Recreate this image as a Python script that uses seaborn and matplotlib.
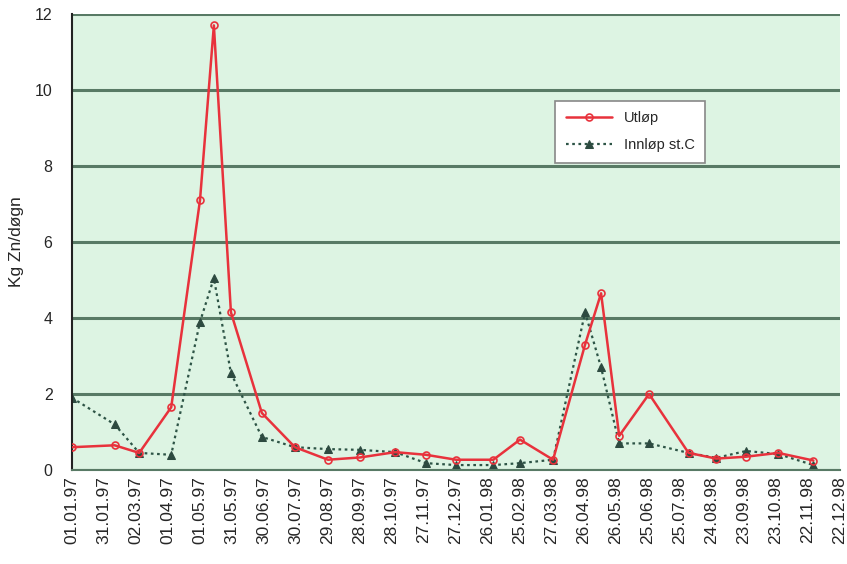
import matplotlib
matplotlib.use("Agg")
import matplotlib.pyplot as plt
import seaborn as sns
import pandas as pd

dates = ["01.01.97", "10.02.97", "05.03.97", "04.04.97", "01.05.97", "14.05.97",
         "30.05.97", "28.06.97", "29.07.97", "29.08.97", "28.09.97", "31.10.97",
         "29.11.97", "27.12.97", "31.01.98", "25.02.98", "28.03.98", "27.04.98",
         "12.05.98", "29.05.98", "26.06.98", "02.08.98", "28.08.98", "25.09.98",
         "25.10.98", "27.11.98"]
utlop = [0.6, 0.65, 0.45, 1.65, 7.1, 11.7, 4.15, 1.5, 0.6, 0.27, 0.33, 0.47,
         0.4, 0.27, 0.27, 0.8, 0.27, 3.3, 4.65, 0.9, 2.0, 0.45, 0.3, 0.35, 0.45, 0.25]
innlop = [1.9, 1.2, 0.45, 0.4, 3.9, 5.05, 2.55, 0.87, 0.6, 0.55, 0.53, 0.47,
          0.18, 0.13, 0.13, 0.18, 0.27, 4.15, 2.7, 0.7, 0.7, 0.45, 0.32, 0.5, 0.42, 0.13]
tick_labels = ["01.01.97", "31.01.97", "02.03.97", "01.04.97", "01.05.97", "31.05.97",
               "30.06.97", "30.07.97", "29.08.97", "28.09.97", "28.10.97", "27.11.97",
               "27.12.97", "26.01.98", "25.02.98", "27.03.98", "26.04.98", "26.05.98",
               "25.06.98", "25.07.98", "24.08.98", "23.09.98", "23.10.98", "22.11.98",
               "22.12.98"]
y_ticks = [0, 2, 4, 6, 8, 10, 12]

sns.set_style("white")
plt.rcParams['font.family'] = ['Liberation Sans', 'DejaVu Sans']

d = pd.to_datetime(dates, format="%d.%m.%y")
df = pd.DataFrame({"Dato": d, "Utløp": utlop, "Innløp st.C": innlop})

fig = plt.figure(figsize=(8.47, 5.64), dpi=100)
# axes: x 72..840 px, y 14..470 px
ax = fig.add_axes([72 / 847, 1 - 470 / 564, (840 - 72) / 847, (470 - 14) / 564])
ax.set_facecolor("#ddf4e3")

for y in y_ticks:
    ax.axhline(y, color="#587a65", lw=2.2, zorder=0)

sns.lineplot(data=df, x="Dato", y="Utløp", ax=ax, color="#e8323c", lw=1.8,
             marker="o", markersize=5, markerfacecolor="none",
             markeredgecolor="#e8323c", markeredgewidth=1.2, label="Utløp", zorder=3)
sns.lineplot(data=df, x="Dato", y="Innløp st.C", ax=ax, color="#2d5446", lw=1.6,
             linestyle=(0, (1.2, 1.6)), marker="^", markersize=6,
             markerfacecolor="#2d4a40", markeredgecolor="#2d4a40", label="Innløp st.C",
             zorder=2)

tick_dates = pd.to_datetime(tick_labels, format="%d.%m.%y")
ax.set_xlim(tick_dates[0], tick_dates[-1])
ax.set_ylim(0, 12)
ax.set_xticks(tick_dates)
ax.set_xticklabels(tick_labels, rotation=90, fontsize=12.5)
ax.set_yticks(y_ticks)
ax.set_yticklabels([str(v) for v in y_ticks], fontsize=11.5)
ax.tick_params(axis="x", length=5, width=0.8, color="#555555", pad=2, direction="inout")
ax.tick_params(axis="y", length=0, pad=14)
ax.set_xlabel("")
ax.set_ylabel("Kg Zn/døgn", fontsize=12.5, labelpad=8)

for s in ["top", "right"]:
    ax.spines[s].set_visible(False)
ax.spines["left"].set_color("#222222")
ax.spines["left"].set_linewidth(1.5)
ax.spines["bottom"].set_color("#587a65")
ax.spines["bottom"].set_linewidth(1.5)

leg = ax.legend(loc="upper left", bbox_to_anchor=(0.62, 0.825), frameon=True,
                fancybox=False, framealpha=1, edgecolor="#888888", fontsize=10.5,
                handlelength=3.2, borderpad=0.7, labelspacing=0.9)
leg.get_frame().set_linewidth(1.2)

fig.savefig("out.png", dpi=100)
